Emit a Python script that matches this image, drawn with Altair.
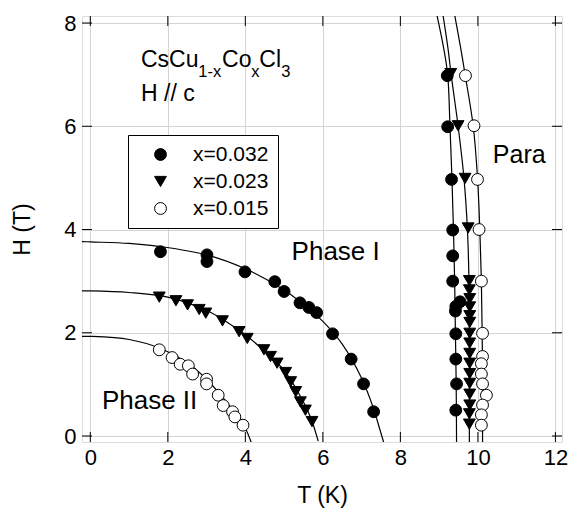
import altair as alt
import pandas as pd

# ---------------- data ----------------
series_names = ["x=0.032", "x=0.023", "x=0.015"]

# x=0.032 (filled circles)
t_032 = [1.81, 3.01, 3.01, 3.99, 4.76, 5.00, 5.41, 5.64, 5.84, 6.25, 6.73, 7.05, 7.31,
         9.21, 9.22, 9.32, 9.35, 9.35, 9.35, 9.54, 9.43, 9.42, 9.43, 9.43, 9.45, 9.43]
h_032 = [3.57, 3.51, 3.38, 3.18, 2.99, 2.80, 2.58, 2.49, 2.39, 1.98, 1.49, 1.01, 0.47,
         6.98, 5.99, 4.97, 3.99, 3.49, 3.00, 2.60, 2.51, 2.42, 1.98, 1.49, 1.01, 0.50]

# x=0.023 (down triangles)
t_023 = [1.78, 2.21, 2.51, 2.81, 2.98, 3.41, 3.84, 4.05, 4.48, 4.65, 4.82, 5.04, 5.17, 5.30, 5.42, 5.55, 5.72,
         9.30, 9.49, 9.67, 9.75, 9.78, 9.78, 9.79, 9.79, 9.79, 9.79, 9.79, 9.79, 9.79, 9.79, 9.79, 9.79, 9.79, 9.79, 9.78, 9.78]
h_023 = [2.69, 2.62, 2.54, 2.45, 2.38, 2.23, 2.02, 1.89, 1.67, 1.54, 1.41, 1.23, 1.05, 0.86, 0.66, 0.50, 0.28,
         7.02, 6.01, 4.99, 4.03, 3.01, 2.83, 2.66, 2.50, 2.33, 2.20, 1.99, 1.80, 1.60, 1.41, 1.21, 1.02, 0.81, 0.60, 0.43, 0.23]

# x=0.015 (open circles)
t_015 = [1.78, 2.11, 2.32, 2.53, 2.64, 3.00, 3.00, 3.30, 3.43, 3.67, 3.73, 3.94,
         9.68, 9.90, 9.99, 10.03, 10.09, 10.12, 10.12, 10.09, 10.09, 10.12, 10.22, 10.12, 10.09, 10.09]
h_015 = [1.67, 1.52, 1.39, 1.36, 1.20, 1.10, 1.01, 0.79, 0.59, 0.47, 0.37, 0.21,
         6.98, 6.01, 4.97, 4.00, 3.00, 1.99, 1.54, 1.40, 1.20, 1.01, 0.79, 0.60, 0.41, 0.21]

# fitted phase boundaries
curve_a_t = [-0.3, 0.0, 1.0, 1.8, 3.0, 4.0, 5.0, 5.5, 6.0, 6.5, 7.0, 7.3, 7.45, 7.6]
curve_a_h = [3.77, 3.76, 3.73, 3.67, 3.51, 3.24, 2.83, 2.55, 2.22, 1.78, 1.12, 0.55, 0.18, -0.2]
curve_b_t = [-0.3, 0.0, 1.0, 2.0, 3.0, 3.5, 4.0, 4.5, 5.0, 5.5, 5.7, 5.88]
curve_b_h = [2.81, 2.81, 2.78, 2.69, 2.43, 2.22, 1.96, 1.64, 1.27, 0.66, 0.33, -0.1]
curve_c_t = [-0.3, 0.0, 1.0, 1.8, 2.5, 3.0, 3.5, 3.8, 4.0, 4.15]
curve_c_h = [1.93, 1.93, 1.87, 1.70, 1.42, 1.10, 0.67, 0.38, 0.15, -0.12]
curve_d_t = [8.93, 9.12, 9.22, 9.28, 9.33, 9.37, 9.40, 9.42, 9.44, 9.45]
curve_d_h = [8.2, 7.5, 7.0, 6.0, 5.0, 4.0, 3.0, 2.0, 1.0, -0.2]
curve_e_t = [9.09, 9.23, 9.31, 9.49, 9.64, 9.73, 9.77, 9.78, 9.78, 9.78]
curve_e_h = [8.2, 7.5, 7.0, 6.0, 5.0, 4.0, 3.0, 2.0, 1.0, -0.2]
curve_f_t = [9.39, 9.56, 9.67, 9.88, 9.99, 10.05, 10.09, 10.11, 10.12, 10.12]
curve_f_h = [8.2, 7.5, 7.0, 6.0, 5.0, 4.0, 3.0, 2.0, 1.0, -0.2]

x_ticks = [0, 2, 4, 6, 8, 10, 12]
y_ticks = [0, 2, 4, 6, 8]

# ---------------- tables ----------------
pts = pd.concat([
    pd.DataFrame({"T": t_032, "H": h_032, "series": series_names[0]}),
    pd.DataFrame({"T": t_023, "H": h_023, "series": series_names[1]}),
    pd.DataFrame({"T": t_015, "H": h_015, "series": series_names[2]}),
], ignore_index=True)

curves = []
for name, ts, hs in [("a", curve_a_t, curve_a_h), ("b", curve_b_t, curve_b_h),
                     ("c", curve_c_t, curve_c_h), ("d", curve_d_t, curve_d_h),
                     ("e", curve_e_t, curve_e_h), ("f", curve_f_t, curve_f_h)]:
    curves.append(pd.DataFrame({"T": ts, "H": hs, "curve": name, "idx": range(len(ts))}))
curves = pd.concat(curves, ignore_index=True)

xt = pd.DataFrame({"v": x_ticks})
yt = pd.DataFrame({"v": y_ticks})

FONT = "Liberation Sans"
W, H = 480, 426

xscale = alt.Scale(domain=[-0.214, 12.17], nice=False, zero=False)
yscale = alt.Scale(domain=[-0.116, 8.136], nice=False, zero=False)

xaxis = alt.Axis(values=x_ticks, title="T (K)", grid=True, ticks=False, domain=False,
                 labelFontSize=22, titleFontSize=23, labelPadding=5, titlePadding=16,
                 labelFont=FONT, titleFont=FONT, titleFontWeight="normal",
                 labelColor="black", titleColor="black", gridColor="#d4d4d4")
yaxis = alt.Axis(values=y_ticks, title="H (T)", grid=True, ticks=False, domain=False,
                 labelFontSize=22, titleFontSize=23, labelPadding=6, titlePadding=29,
                 labelFont=FONT, titleFont=FONT, titleFontWeight="normal",
                 labelColor="black", titleColor="black", gridColor="#d4d4d4")

lines = alt.Chart(curves).mark_line(color="black", strokeWidth=1.2, clip=True,
                                    interpolate="catmull-rom").encode(
    x=alt.X("T:Q", scale=xscale, axis=xaxis),
    y=alt.Y("H:Q", scale=yscale, axis=yaxis),
    detail="curve:N",
    order="idx:Q",
)

legend = alt.Legend(title=None, orient="none", legendX=46, legendY=119,
                    strokeColor="black", fillColor="white", padding=9,
                    symbolOffset=13, labelOffset=22, rowPadding=5,
                    labelFontSize=21, labelFont=FONT, labelColor="black",
                    symbolSize=140, symbolStrokeWidth=1, symbolOpacity=1)

points = alt.Chart(pts).mark_point(filled=True, strokeWidth=1,
                                   size=140, opacity=1).encode(
    x="T:Q",
    y="H:Q",
    shape=alt.Shape("series:N", scale=alt.Scale(domain=series_names,
                                                 range=["circle", "triangle-down", "circle"]),
                    legend=legend),
    fill=alt.Fill("series:N", scale=alt.Scale(domain=series_names,
                                               range=["black", "black", "white"]),
                  legend=legend),
    stroke=alt.Stroke("series:N", scale=alt.Scale(domain=series_names,
                                                   range=["black", "black", "black"]),
                      legend=legend),
)

# inward ticks on all four sides
tick_len = 10
bx = alt.Chart(xt).mark_rule(color="black", strokeWidth=1).encode(
    x="v:Q", y=alt.value(H), y2=alt.value(H - tick_len))
tx = alt.Chart(xt).mark_rule(color="black", strokeWidth=1).encode(
    x="v:Q", y=alt.value(0), y2=alt.value(tick_len))
ly = alt.Chart(yt).mark_rule(color="black", strokeWidth=1).encode(
    y="v:Q", x=alt.value(0), x2=alt.value(tick_len))
ry = alt.Chart(yt).mark_rule(color="black", strokeWidth=1).encode(
    y="v:Q", x=alt.value(W), x2=alt.value(W - tick_len))


def label(text, t, h, size, baseline="alphabetic"):
    return alt.Chart(pd.DataFrame({"k": [0]})).mark_text(
        text=text, font=FONT, fontSize=size, color="black", align="left",
        baseline=baseline).encode(x=alt.datum(t), y=alt.datum(h))

texts = [
    label("CsCu", 1.308, 7.157, 23),
    label("1-x", 2.787, 6.963, 16.5),
    label("Co", 3.399, 7.157, 23),
    label("x", 4.155, 6.963, 16.5),
    label("Cl", 4.361, 7.157, 23),
    label("3", 4.929, 6.963, 16.5),
    label("H // c", 1.308, 6.492, 23),
    label("Phase I", 5.194, 3.566, 26, "middle"),
    label("Phase II", 0.30, 0.678, 26, "middle"),
    label("Para", 10.386, 5.446, 25, "middle"),
]

chart = alt.layer(lines, bx, tx, ly, ry, points, *texts).properties(
    width=W, height=H,
    autosize=alt.AutoSizeParams(type="none"),
    padding={"left": 82, "top": 16, "right": 9, "bottom": 76},
).configure_view(
    stroke="#222222", strokeWidth=2
).configure(font=FONT, background="white")

chart.save("out.html", embed_options={"renderer": "svg", "actions": False})
